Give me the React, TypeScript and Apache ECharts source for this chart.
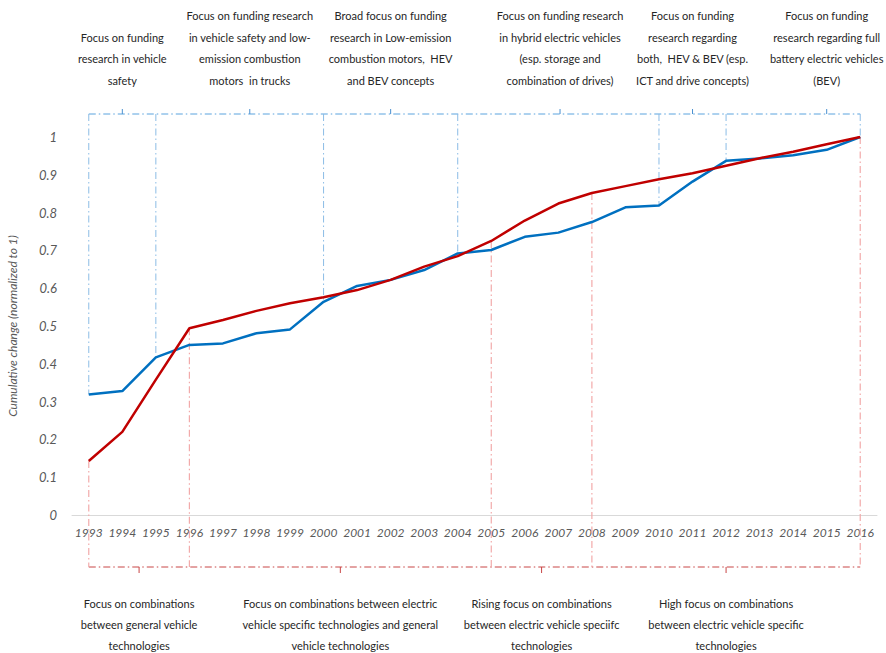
import React, { useEffect, useRef } from "react";
import * as echarts from "echarts";

const years = ["1993","1994","1995","1996","1997","1998","1999","2000","2001","2002","2003","2004","2005","2006","2007","2008","2009","2010","2011","2012","2013","2014","2015","2016"];
const bluePhase = [0.319,0.328,0.417,0.450,0.454,0.481,0.491,0.564,0.606,0.622,0.648,0.692,0.701,0.736,0.747,0.775,0.814,0.819,0.882,0.937,0.943,0.952,0.966,1.0];
const redPhase = [0.143,0.220,0.358,0.494,0.516,0.540,0.560,0.576,0.595,0.622,0.657,0.685,0.725,0.779,0.824,0.852,0.870,0.888,0.904,0.924,0.944,0.961,0.981,1.0];

const topBoundaries = [0, 2, 7, 11, 17, 19, 23];
const topTips = [1, 4.8, 9, 14.05, 18, 22];
const topTexts = [
  "Focus on funding\nresearch in vehicle\nsafety",
  "Focus on funding research\nin vehicle safety and low-\nemission combustion\nmotors  in trucks",
  "Broad focus on funding\nresearch in Low-emission\ncombustion motors,  HEV\nand BEV concepts",
  "Focus on funding research\nin hybrid electric vehicles\n(esp. storage and\ncombination of drives)",
  "Focus on funding\nresearch regarding\nboth,  HEV & BEV (esp.\nICT and drive concepts)",
  "Focus on funding\nresearch regarding full\nbattery electric vehicles\n(BEV)",
];

const bottomBoundaries = [0, 3, 12, 15, 23];
const bottomTips = [1.5, 7.5, 13.5, 19];
const bottomTexts = [
  "Focus on combinations\nbetween general vehicle\ntechnologies",
  "Focus on combinations between electric\nvehicle specific technologies and general\nvehicle technologies",
  "Rising focus on combinations\nbetween electric vehicle speciifc\ntechnologies",
  "High focus on combinations\nbetween electric vehicle specific\ntechnologies",
];

const FONT = "Lato, 'Open Sans', sans-serif";

export default function App() {
  const ref = useRef<HTMLDivElement>(null);
  useEffect(() => {
    if (!ref.current) return;
    const chart = echarts.init(ref.current, null, { renderer: "svg" });
    chart.setOption({
      animation: false,
      backgroundColor: "#fff",
      grid: { left: 72, right: 9, top: 137, bottom: 138, containLabel: false, outerBoundsMode: "none" },
      xAxis: {
        type: "category",
        data: years,
        boundaryGap: true,
        axisTick: { show: false },
        axisLine: { lineStyle: { color: "#D9D9D9", width: 1 } },
        axisLabel: { interval: 0, fontStyle: "italic", fontFamily: FONT, fontSize: 12, color: "#595959", margin: 11 },
        splitLine: { show: false },
      },
      yAxis: {
        type: "value",
        min: 0,
        max: 1,
        interval: 0.1,
        name: "Cumulative change (normalized to 1)",
        nameLocation: "middle",
        nameGap: 54,
        nameTextStyle: { fontStyle: "italic", fontFamily: FONT, fontSize: 12, color: "#595959" },
        axisLine: { show: false },
        axisTick: { show: false },
        splitLine: { show: false },
        axisLabel: {
          fontStyle: "italic", fontFamily: FONT, fontSize: 13, color: "#595959", margin: 15,
          formatter: (v: number) => String(parseFloat(v.toFixed(1))),
        },
      },
      series: [
        { type: "line", data: bluePhase, symbol: "none", z: 3, lineStyle: { color: "#0070C0", width: 2.5 } },
        { type: "line", data: redPhase, symbol: "none", z: 4, lineStyle: { color: "#C00000", width: 2.5 } },
      ],
    });

    const px = (i: number, v: number) => chart.convertToPixel({ xAxisIndex: 0, yAxisIndex: 0 }, [i, v]) as number[];
    const xAt = (f: number) => {
      const a = Math.floor(f), b = Math.min(a + 1, years.length - 1);
      const xa = px(a, 0)[0], xb = px(b, 0)[0];
      return xa + (xb - xa) * (f - a);
    };
    const yTopAxis = px(0, 1)[1];
    const yZero = px(0, 0)[1];
    const topY = yTopAxis - 23;
    const botY = yZero + 52;
    const dash = [7, 3, 1.5, 3];
    const g: any[] = [];
    const x0 = xAt(0), x1 = xAt(years.length - 1);
    g.push({ type: "line", z: 1, shape: { x1: x0, y1: topY, x2: x1, y2: topY }, style: { stroke: "#5BA3DE", lineWidth: 1, lineDash: dash } });
    topBoundaries.forEach((b) => {
      const p = px(b, bluePhase[b]);
      g.push({ type: "line", z: 1, shape: { x1: p[0], y1: topY, x2: p[0], y2: p[1] }, style: { stroke: "#8BBCE6", lineWidth: 1, lineDash: dash } });
    });
    topTips.forEach((t, i) => {
      const x = xAt(t);
      g.push({ type: "line", z: 1, shape: { x1: x, y1: topY, x2: x, y2: topY - 5 }, style: { stroke: "#4A90D0", lineWidth: 1 } });
      g.push({ type: "text", z: 5, x, y: topY - 23, style: { text: topTexts[i], fill: "#262626", font: `11px ${FONT}`, textAlign: "center", textVerticalAlign: "bottom", lineHeight: 21.5 } });
    });
    g.push({ type: "line", z: 1, shape: { x1: x0, y1: botY, x2: x1, y2: botY }, style: { stroke: "#C84646", lineWidth: 1, lineDash: dash } });
    bottomBoundaries.forEach((b) => {
      const p = px(b, redPhase[b]);
      g.push({ type: "line", z: 1, shape: { x1: p[0], y1: p[1], x2: p[0], y2: botY }, style: { stroke: "#F2AAAA", lineWidth: 1.2, lineDash: dash } });
    });
    bottomTips.forEach((t, i) => {
      const x = xAt(t);
      g.push({ type: "line", z: 1, shape: { x1: x, y1: botY, x2: x, y2: botY + 6 }, style: { stroke: "#C84646", lineWidth: 1 } });
      g.push({ type: "text", z: 5, x, y: botY + 26, style: { text: bottomTexts[i], fill: "#262626", font: `11px ${FONT}`, textAlign: "center", textVerticalAlign: "top", lineHeight: 21 } });
    });
    chart.setOption({ graphic: g });
    return () => chart.dispose();
  }, []);
  return <div ref={ref} style={{ position: "fixed", left: 0, top: 0, width: 886, height: 653 }} />;
}
